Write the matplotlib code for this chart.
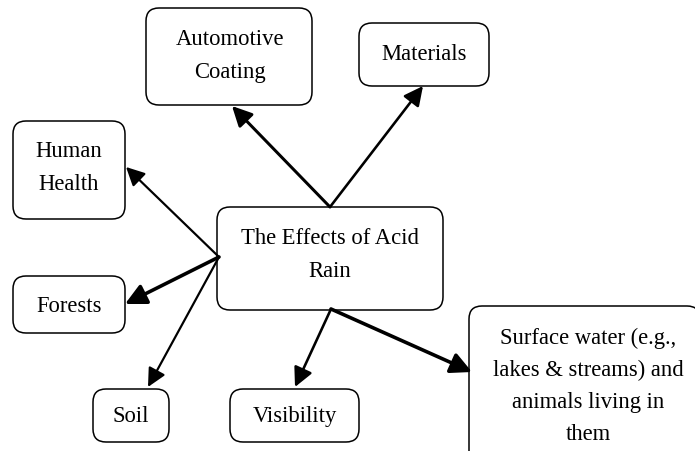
import matplotlib
matplotlib.use("Agg")
import matplotlib.pyplot as plt
from matplotlib.patches import FancyBboxPatch, FancyArrowPatch

# Node labels
labels = ["Automotive\nCoating", "Materials", "Human\nHealth", "The Effects of Acid\nRain",
          "Forests", "Soil", "Visibility",
          "Surface water (e.g.,\nlakes & streams) and\nanimals living in\nthem"]
# Box extents in pixel coordinates: left, top, right, bottom
boxes = [(146, 9, 312, 106), (359, 24, 489, 87), (13, 122, 125, 220), (217, 208, 443, 311),
         (13, 277, 125, 334), (93, 390, 169, 443), (230, 390, 359, 443), (469, 307, 700, 470)]
# Text centres
text_xy = [(230, 56), (424, 55), (69, 168), (330, 255), (69, 307), (131, 417), (295, 417), (588, 386)]

# Arrows: start, end, width (px)
arrow_from = [(330, 208), (330, 208), (219, 258), (219, 258), (219, 258), (331, 310), (331, 310)]
arrow_to = [(232, 107), (423, 87), (126, 168), (125, 305), (148, 388), (295, 388), (472, 373)]
arrow_w = [3.0, 2.6, 2.2, 3.6, 2.2, 2.6, 3.6]

fig = plt.figure(figsize=(6.95, 4.52), dpi=100)
ax = fig.add_axes([0, 0, 1, 1])
ax.set_xlim(0, 695)
ax.set_ylim(452, 0)
ax.axis("off")

for (l, t, r, b) in boxes:
    p = FancyBboxPatch((l, t), r - l, b - t, boxstyle="round,pad=0,rounding_size=13",
                       fc="white", ec="black", lw=1.1, zorder=2)
    ax.add_patch(p)

for i, (lab, (x, y)) in enumerate(zip(labels, text_xy)):
    ax.text(x, y, lab, ha="center", va="center", family="Liberation Serif",
            fontsize=16.3, linespacing=(1.68 if i == 7 else 1.75), zorder=3, color="black")

for s, e, w in zip(arrow_from, arrow_to, arrow_w):
    a = FancyArrowPatch(s, e, arrowstyle="-|>,head_length=0.5,head_width=0.25",
                        mutation_scale=18 + w * 2,
                        shrinkA=0, shrinkB=0, lw=w * 0.72, color="black", zorder=4)
    ax.add_patch(a)

fig.savefig("out.png", dpi=100, facecolor="white")
